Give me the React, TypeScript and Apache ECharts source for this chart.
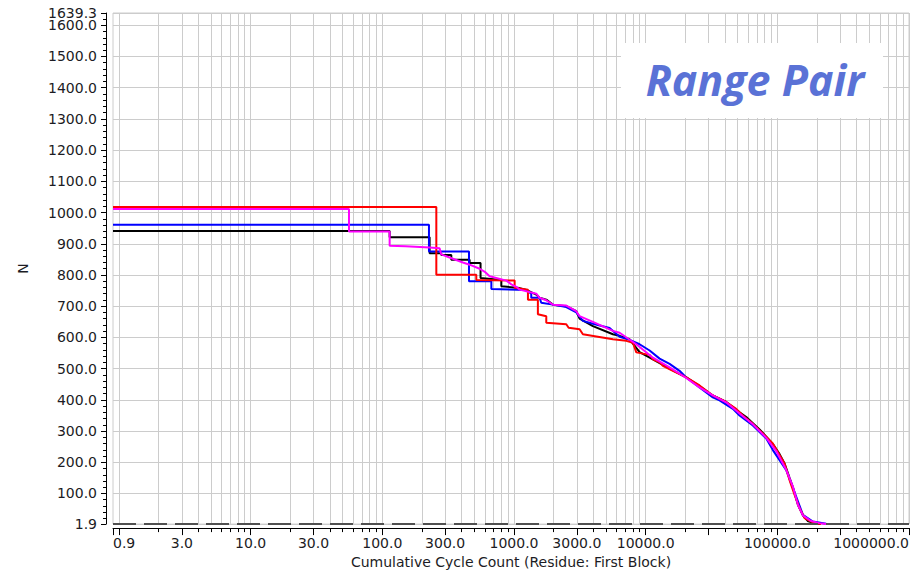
import React, { useEffect, useRef } from 'react';
import * as echarts from 'echarts';

// ---- axis definitions ----
const CYCLE_MIN = 0.9;
const CYCLE_MAX = 1000000;
const N_MIN = 1.9;
const N_MAX = 1639.3;

const xLabelValues = [0.9, 3, 10, 30, 100, 300, 1000, 3000, 10000, 100000, 1000000];
const xMajorTicks = [0.9, 1, 3, 10, 30, 100, 300, 1000, 3000, 10000, 30000, 100000, 300000, 1000000];
const xGridMantissas = [1, 2, 3, 4, 5, 6, 7, 8, 9];
const xGridDecades = [1, 10, 100, 1000, 10000, 100000];

const yLabelValues = [1.9, 100, 200, 300, 400, 500, 600, 700, 800, 900, 1000, 1100, 1200, 1300, 1400, 1500, 1600];
const yTopLabel = [1639.3];
const yMinorStep = 20;

// ---- series: [cumulative cycle count, N] ----
const blackData = [
  [0.9, 941], [113.6, 941], [113.6, 921], [228.6, 921], [228.6, 870], [280, 870], [280, 864], [334, 864], [334, 849],
  [460, 849], [460, 838], [557, 838], [557, 790], [801, 784], [801, 764], [1104, 758], [1240, 752], [1476, 737],
  [1564, 727], [1758, 721], [1973, 705], [2494, 700], [2970, 684], [3148, 660], [3974, 636], [5638, 610], [6340, 605],
  [7550, 594], [8990, 553], [11350, 530], [15190, 500], [20330, 472], [25650, 444], [32370, 414], [40900, 393],
  [51640, 360], [58060, 345], [65200, 325], [73300, 305], [82400, 282], [92500, 258], [104000, 226], [113500, 196],
  [123800, 150], [131300, 120], [143300, 64], [156300, 30], [170000, 12], [190000, 5], [215000, 1.9],
];

const blueData = [
  [0.9, 961], [226, 961], [226, 875], [455, 875], [455, 780], [673, 780], [673, 755], [1240, 752], [1352, 740],
  [1352, 727], [1564, 727], [1610, 711], [1973, 705], [2494, 697], [2970, 680], [3336, 653], [3974, 644], [5320, 630],
  [6340, 602], [7550, 592], [8990, 578], [10710, 558], [12760, 532], [15190, 515], [18080, 493], [20330, 472],
  [25650, 440], [32370, 408], [36390, 398], [45920, 371], [51640, 350], [65200, 318], [82400, 276], [92500, 239],
  [116900, 175], [139000, 90], [156300, 32], [186100, 10], [234900, 3],
];

const redData = [
  [0.9, 1018], [257, 1018], [257, 801], [517, 801], [517, 784], [1011, 782], [1011, 759], [1276, 753], [1276, 721],
  [1518, 721], [1518, 674], [1758, 668], [1758, 647], [2494, 642], [2600, 631], [3148, 626], [3336, 610], [4217, 603],
  [5638, 594], [7123, 589], [8000, 583], [8490, 552], [10710, 544], [11350, 530], [12760, 520], [13520, 509],
  [16100, 493], [20330, 472], [25650, 446], [32370, 414], [40900, 393], [48700, 371], [54700, 350], [65200, 323],
  [77600, 292], [92400, 260], [103900, 223], [113400, 196], [123800, 143], [135100, 96], [147500, 53], [161000, 21],
  [180800, 10], [200000, 4], [215000, 1.9],
];

const magentaData = [
  [0.9, 1011], [55.8, 1011], [55.8, 939], [113.6, 939], [113.6, 894], [150, 892], [228.6, 888], [272, 886], [280, 866],
  [324, 856], [409, 840], [460, 833], [548, 820], [600, 810], [653, 796], [874, 782], [954, 770], [1041, 762],
  [1104, 753], [1476, 740], [1564, 727], [1758, 719], [1973, 705], [2494, 702], [2970, 684], [3148, 668], [3974, 650],
  [5638, 621], [6340, 615], [8486, 578], [11350, 535], [15190, 504], [20330, 470], [25650, 440], [32370, 414],
  [40900, 392], [51640, 356], [65200, 322], [82400, 278], [98100, 236], [116900, 175], [131300, 122], [143300, 64],
  [156300, 30], [180000, 12], [209000, 5], [234900, 1.9],
];

const FONT = 'DejaVu Sans';
const TEXT_COLOR = '#1c1c24';
const GRID_COLOR = '#cccccc';

const lg = (v: number) => Math.log10(v);
const toXY = (d: number[][]) => d.map(([c, n]) => [lg(c), n]);

function buildOption() {
  const xGridValues: number[] = [];
  xGridDecades.forEach((d) => xGridMantissas.forEach((m) => xGridValues.push(lg(m * d))));
  xGridValues.push(lg(CYCLE_MAX));

  const yMinor: number[] = [];
  for (let v = yMinorStep; v < N_MAX; v += yMinorStep) yMinor.push(v);

  const xFmt = (v: number) => Math.pow(10, v).toFixed(1);
  const yFmt = (v: number) => v.toFixed(1);
  const labelText = { fontFamily: FONT, fontSize: 14, color: TEXT_COLOR };

  const line = (name: string, data: number[][], color: string, extra: any = {}) => ({
    name,
    type: 'line',
    data: toXY(data),
    showSymbol: false,
    symbol: 'none',
    lineStyle: { color, width: 2 },
    itemStyle: { color },
    silent: true,
    ...extra,
  });

  return {
    animation: false,
    backgroundColor: '#ffffff',
    grid: {
      left: 113,
      right: 5,
      top: 13,
      bottom: 46,
      show: true,
      borderColor: GRID_COLOR,
      borderWidth: 1,
    },
    xAxis: [
      {
        type: 'value',
        min: lg(CYCLE_MIN),
        max: lg(CYCLE_MAX),
        position: 'bottom',
        offset: 4,
        axisLine: { show: true, onZero: false, lineStyle: { color: '#000', width: 1 } },
        axisTick: { show: true, customValues: xMajorTicks.map(lg), length: 7, lineStyle: { color: '#000' } },
        axisLabel: {
          customValues: xLabelValues.map(lg),
          formatter: xFmt,
          margin: 8,
          ...labelText,
          alignMinLabel: 'left',
          alignMaxLabel: 'right',
          showMinLabel: true,
          showMaxLabel: true,
        },
        splitLine: { show: false },
        name: 'Cumulative Cycle Count (Residue: First Block)',
        nameLocation: 'middle',
        nameGap: 25,
        nameTextStyle: labelText,
      },
      {
        type: 'value',
        min: lg(CYCLE_MIN),
        max: lg(CYCLE_MAX),
        position: 'bottom',
        offset: 4,
        axisLine: { show: false, onZero: false },
        axisTick: { show: true, customValues: xGridValues, length: 4, lineStyle: { color: '#000' } },
        axisLabel: { show: false },
        splitLine: { show: true, lineStyle: { color: GRID_COLOR, width: 1 } },
      },
    ],
    yAxis: [
      {
        type: 'value',
        min: N_MIN,
        max: N_MAX,
        position: 'left',
        offset: 7,
        axisLine: { show: true, onZero: false, lineStyle: { color: '#000', width: 1 } },
        axisTick: { show: true, customValues: yLabelValues.concat(yTopLabel), length: 5, lineStyle: { color: '#000' } },
        axisLabel: {
          customValues: yLabelValues,
          formatter: yFmt,
          margin: 9,
          ...labelText,
          showMinLabel: true,
          showMaxLabel: true,
        },
        splitLine: { show: true, lineStyle: { color: GRID_COLOR, width: 1 } },
        name: 'N',
        nameLocation: 'middle',
        nameRotate: 90,
        nameGap: 76,
        nameTextStyle: labelText,
      },
      {
        type: 'value',
        min: N_MIN,
        max: N_MAX,
        position: 'left',
        offset: 7,
        axisLine: { show: false, onZero: false },
        axisTick: { show: true, customValues: yMinor, length: 3, lineStyle: { color: '#000' } },
        axisLabel: {
          customValues: yTopLabel,
          formatter: yFmt,
          margin: 9,
          ...labelText,
          showMinLabel: true,
          showMaxLabel: true,
        },
        splitLine: { show: false },
      },
    ],
    graphic: [
      {
        type: 'rect',
        z: 10,
        shape: { x: 621, y: 43, width: 262, height: 75 },
        style: { fill: '#ffffff' },
        silent: true,
      },
      {
        type: 'text',
        z: 11,
        x: 755,
        y: 79,
        silent: true,
        style: {
          text: 'Range Pair',
          fill: '#5a72d6',
          font: 'italic bold 43px "Open Sans"',
          align: 'center',
          verticalAlign: 'middle',
        },
      },
    ],
    series: [
      line('Black', blackData, '#000000', {
        markLine: {
          silent: true,
          symbol: ['none', 'none'],
          label: { show: false },
          lineStyle: { color: '#505050', width: 2, type: [23, 8] },
          data: [{ yAxis: N_MIN }],
        },
      }),
      line('Blue', blueData, '#0000ff'),
      line('Red', redData, '#ff0000'),
      line('Magenta', magentaData, '#ff00ff'),
    ],
  };
}

export default function App() {
  const ref = useRef<HTMLDivElement>(null);
  useEffect(() => {
    if (!ref.current) return;
    const chart = echarts.init(ref.current, undefined, { renderer: 'svg' });
    chart.setOption(buildOption() as any);
    return () => chart.dispose();
  }, []);
  return (
    <div
      ref={ref}
      style={{ position: 'fixed', left: 0, top: 0, width: 914, height: 574, background: '#ffffff' }}
    />
  );
}
